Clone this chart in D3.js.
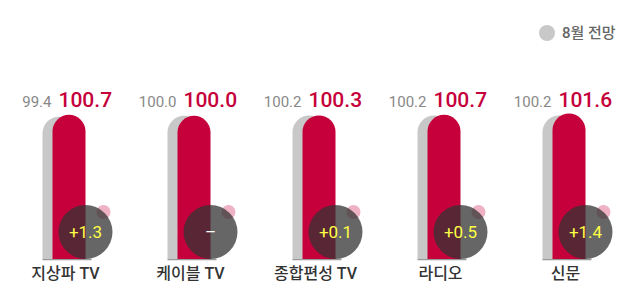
<!DOCTYPE html>
<html>
<head>
<meta charset="utf-8">
<script src="https://cdn.jsdelivr.net/npm/d3@7"></script>
<style>
  body { margin: 0; background: #fff; }
  svg text { font-family: Roboto, "Noto Sans CJK KR", sans-serif; }
</style>
</head>
<body>
<figure id="chart" style="margin:0"></figure>
<script>
// data
var categories = ['지상파 TV', '케이블 TV', '종합편성 TV', '라디오', '신문'];
var prevValues = [99.4, 100.0, 100.2, 100.2, 100.2];
var nextValues = [100.7, 100.0, 100.3, 100.7, 101.6];
var changeLabels = ['+1.3', '–', '+0.1', '+0.5', '+1.4'];
var legendLabel = '8월 전망';

var data = categories.map(function(c, i) {
  return { name: c, prev: prevValues[i], next: nextValues[i], change: changeLabels[i] };
});

var width = 640, height = 308;
var red = '#c6003b', grey = '#c8c8c8';

var svg = d3.select('figure#chart').append('svg')
  .attr('width', width)
  .attr('height', height);

// scales
var x = d3.scaleBand()
  .domain(categories)
  .range([3, 628]);
var y = d3.scaleLinear()
  .domain([0, 102])
  .range([259, 113]);

var barW = 33;

function roundTop(x0, yTop, w, yBase) {
  var rr = w / 2;
  return 'M' + x0 + ',' + yBase +
    'V' + (yTop + rr) +
    'A' + rr + ',' + rr + ' 0 0 1 ' + (x0 + w) + ',' + (yTop + rr) +
    'V' + yBase + 'Z';
}

// legend
var legend = svg.append('g').attr('transform', 'translate(547,33)');
legend.append('circle').attr('r', 8).attr('fill', grey);
legend.append('text')
  .attr('x', 15).attr('y', 5)
  .style('font-size', '15px')
  .style('font-weight', 500)
  .attr('fill', '#666')
  .text(legendLabel);

var groups = svg.selectAll('.group')
  .data(data)
  .enter()
  .append('g')
    .classed('group', true)
    .attr('transform', function(d) { return 'translate(' + (x(d.name) + x.bandwidth() / 2) + ',0)'; });

// baseline
groups.append('line')
  .attr('x1', -23).attr('x2', 26)
  .attr('y1', y(0) + 0.5).attr('y2', y(0) + 0.5)
  .attr('stroke', '#999')
  .attr('stroke-width', 1.5);

// grey bar
groups.append('path')
  .attr('d', function(d) { return roundTop(-23, y(d.prev), barW, y(0)); })
  .attr('fill', grey);

// red bar
groups.append('path')
  .attr('d', function(d) { return roundTop(-13, y(d.next), barW, y(0)); })
  .attr('fill', red);

// small pink dot
groups.append('circle')
  .attr('cx', 38).attr('cy', 212).attr('r', 7)
  .attr('fill', red).attr('fill-opacity', 0.3);

// change bubble
groups.append('circle')
  .attr('cx', 20).attr('cy', 232).attr('r', 27)
  .attr('fill', '#333').attr('fill-opacity', 0.75);

groups.append('text')
  .attr('x', 20).attr('y', 238)
  .attr('text-anchor', 'middle')
  .style('font-size', '17px')
  .attr('fill', function(d) { return d.change === '–' ? '#fff' : '#ffff45'; })
  .text(function(d) { return d.change; });

// value labels
groups.append('text')
  .attr('x', -14).attr('y', 107)
  .attr('text-anchor', 'end')
  .style('font-size', '15px')
  .attr('fill', '#888')
  .text(function(d) { return d3.format('.1f')(d.prev); });

groups.append('text')
  .attr('x', -7).attr('y', 107)
  .style('font-size', '21px')
  .style('font-weight', 500)
  .attr('fill', red)
  .text(function(d) { return d3.format('.1f')(d.next); });

// category labels
groups.append('text')
  .attr('x', 0).attr('y', 279)
  .attr('text-anchor', 'middle')
  .style('font-size', '16px')
  .style('font-weight', 500)
  .attr('fill', '#333')
  .text(function(d) { return d.name; });
</script>
</body>
</html>
